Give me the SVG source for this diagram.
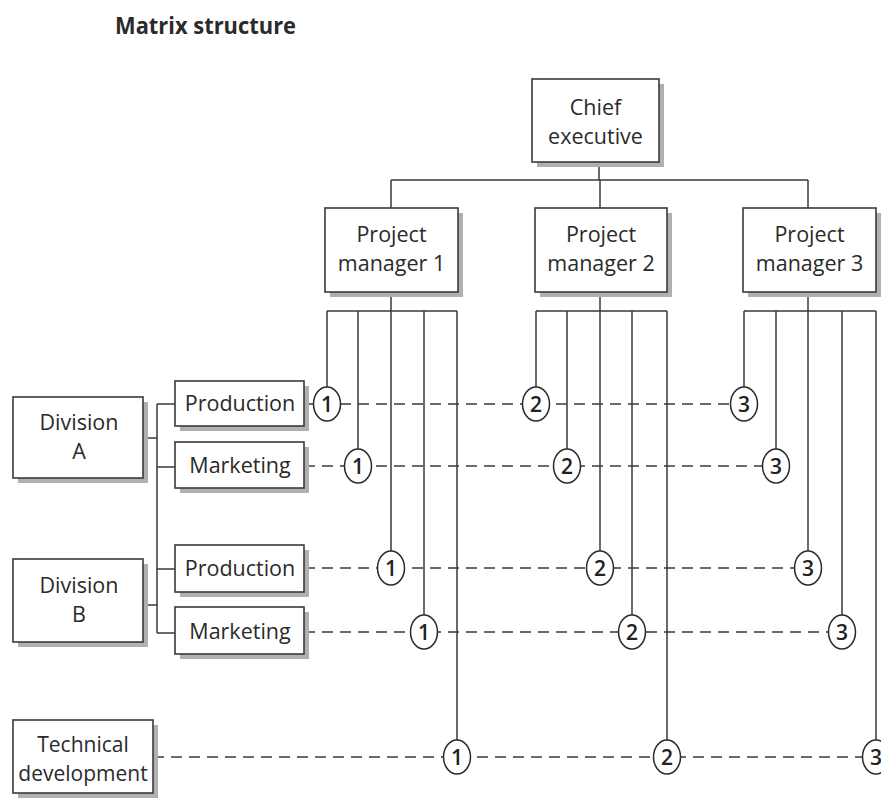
<svg xmlns="http://www.w3.org/2000/svg" width="881" height="805" viewBox="0 0 881 805">
<style>
.box{fill:#fff;stroke:#3a3a3a;stroke-width:1.6}
.sh{fill:#b0b0b0}
.t{font-family:"Open Sans","Noto Sans",sans-serif;font-size:21.5px;fill:#2a2a2a;text-anchor:middle}
.ln{stroke:#3a3a3a;stroke-width:1.5;fill:none}
.dash{stroke:#3a3a3a;stroke-width:1.6;fill:none;stroke-dasharray:11 7}
.c{fill:#fff;stroke:#2a2a2a;stroke-width:1.5}
.n{font-family:"Open Sans","Noto Sans",sans-serif;font-size:21px;font-weight:600;fill:#222;text-anchor:middle}
</style>
<rect width="881" height="805" fill="#fff"/>
<text x="115" y="34" font-family="'Open Sans','Noto Sans',sans-serif" font-size="23" font-weight="bold" fill="#2a2a2a" textLength="181" lengthAdjust="spacingAndGlyphs">Matrix structure</text>

<g id="connectors">
  <path class="ln" d="M599 162V180M391 180H808M391 180V208M600 180V208M808 180V208"/>
  <path class="ln" d="M391 292V568M327 311H457M327 311V404M358 311V466M424 311V632M457 311V757"/>
  <path class="ln" d="M600 292V568M536 311H667M536 311V404M567 311V466M632 311V632M667 311V757"/>
  <path class="ln" d="M808 292V568M744 311H876M744 311V404M776 311V466M842 311V632M876 311V757"/>
  <path class="ln" d="M143 438H157M143 605H157M157 404V633M157 404H175M157 467H175M157 569H175M157 633H175"/>
  <path class="dash" d="M304 404H744"/>
  <path class="dash" d="M304 466H776"/>
  <path class="dash" d="M304 568H808"/>
  <path class="dash" d="M304 632H842"/>
  <path class="dash" d="M153 757H876"/>
</g>

<g id="chief">
  <rect class="sh" x="537" y="84" width="127" height="83"/>
  <rect class="box" x="532" y="79" width="127" height="83"/>
  <text class="t" x="595.5" y="115">Chief</text>
  <text class="t" x="595.5" y="144">executive</text>
</g>
<g id="pm1">
  <rect class="sh" x="330" y="213" width="133" height="84"/>
  <rect class="box" x="325" y="208" width="133" height="84"/>
  <text class="t" x="391.5" y="242">Project</text>
  <text class="t" x="391.5" y="271">manager 1</text>
</g>
<g id="pm2">
  <rect class="sh" x="540" y="213" width="132" height="84"/>
  <rect class="box" x="535" y="208" width="132" height="84"/>
  <text class="t" x="601" y="242">Project</text>
  <text class="t" x="601" y="271">manager 2</text>
</g>
<g id="pm3">
  <rect class="sh" x="748" y="213" width="133" height="84"/>
  <rect class="box" x="743" y="208" width="133" height="84"/>
  <text class="t" x="809.5" y="242">Project</text>
  <text class="t" x="809.5" y="271">manager 3</text>
</g>

<g id="divA">
  <rect class="sh" x="18" y="402" width="130" height="81"/>
  <rect class="box" x="13" y="397" width="130" height="81"/>
  <text class="t" x="79" y="430">Division</text>
  <text class="t" x="79" y="459">A</text>
</g>
<g id="divB">
  <rect class="sh" x="18" y="564" width="130" height="83"/>
  <rect class="box" x="13" y="559" width="130" height="83"/>
  <text class="t" x="79" y="593">Division</text>
  <text class="t" x="79" y="622">B</text>
</g>
<g id="prodA">
  <rect class="sh" x="180" y="386" width="129" height="45"/>
  <rect class="box" x="175" y="381" width="129" height="45"/>
  <text class="t" x="240" y="411">Production</text>
</g>
<g id="mktA">
  <rect class="sh" x="180" y="447" width="129" height="46"/>
  <rect class="box" x="175" y="442" width="129" height="46"/>
  <text class="t" x="240" y="473">Marketing</text>
</g>
<g id="prodB">
  <rect class="sh" x="180" y="550" width="129" height="47"/>
  <rect class="box" x="175" y="545" width="129" height="47"/>
  <text class="t" x="240" y="576">Production</text>
</g>
<g id="mktB">
  <rect class="sh" x="180" y="612" width="129" height="47"/>
  <rect class="box" x="175" y="607" width="129" height="47"/>
  <text class="t" x="240" y="639">Marketing</text>
</g>
<g id="tech">
  <rect class="sh" x="18" y="725" width="140" height="73"/>
  <rect class="box" x="13" y="720" width="140" height="73"/>
  <text class="t" x="83" y="752" style="font-size:21px">Technical</text>
  <text class="t" x="83" y="781" style="font-size:21px">development</text>
</g>

<g id="circles">
  <ellipse class="c" cx="327" cy="404" rx="13.5" ry="17"/><text class="n" x="327" y="411.5">1</text>
  <ellipse class="c" cx="536" cy="404" rx="13.5" ry="17"/><text class="n" x="536" y="411.5">2</text>
  <ellipse class="c" cx="744" cy="404" rx="13.5" ry="17"/><text class="n" x="744" y="411.5">3</text>
  <ellipse class="c" cx="358" cy="466" rx="13.5" ry="17"/><text class="n" x="358" y="473.5">1</text>
  <ellipse class="c" cx="567" cy="466" rx="13.5" ry="17"/><text class="n" x="567" y="473.5">2</text>
  <ellipse class="c" cx="776" cy="466" rx="13.5" ry="17"/><text class="n" x="776" y="473.5">3</text>
  <ellipse class="c" cx="391" cy="568" rx="13.5" ry="17"/><text class="n" x="391" y="575.5">1</text>
  <ellipse class="c" cx="600" cy="568" rx="13.5" ry="17"/><text class="n" x="600" y="575.5">2</text>
  <ellipse class="c" cx="808" cy="568" rx="13.5" ry="17"/><text class="n" x="808" y="575.5">3</text>
  <ellipse class="c" cx="424" cy="632" rx="13.5" ry="17"/><text class="n" x="424" y="639.5">1</text>
  <ellipse class="c" cx="632" cy="632" rx="13.5" ry="17"/><text class="n" x="632" y="639.5">2</text>
  <ellipse class="c" cx="842" cy="632" rx="13.5" ry="17"/><text class="n" x="842" y="639.5">3</text>
  <ellipse class="c" cx="457" cy="757" rx="13.5" ry="17"/><text class="n" x="457" y="764.5">1</text>
  <ellipse class="c" cx="667" cy="757" rx="13.5" ry="17"/><text class="n" x="667" y="764.5">2</text>
  <ellipse class="c" cx="876" cy="757" rx="13.5" ry="17"/><text class="n" x="876" y="764.5">3</text>
</g>
</svg>
